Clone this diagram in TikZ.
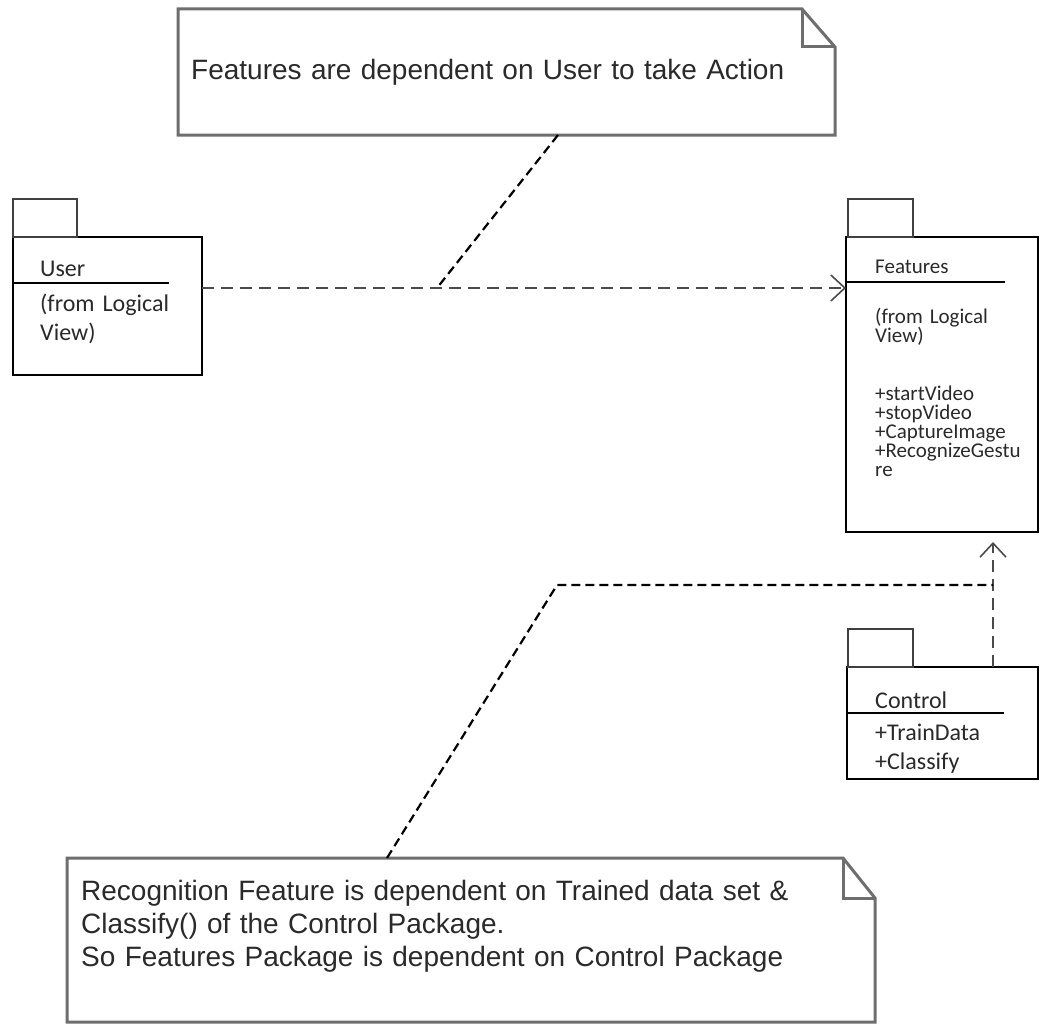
\documentclass[tikz,border=0pt]{standalone}
\usepackage{fontspec}
\setmainfont{Liberation Sans}
\newfontfamily\pkgfont{Carlito}
\usepackage{xcolor}
\usetikzlibrary{arrows.meta,calc}

\definecolor{noteline}{HTML}{6E6E6E}
\definecolor{depline}{HTML}{4A4A4A}
\definecolor{inktext}{HTML}{2A2A2A}

\tikzset{
  pkg/.style={draw=black, line width=2.4pt, fill=white, anchor=north west, inner sep=0pt, outer sep=0pt},
  pkgtab/.style={draw=black!75, line width=1.4pt},
  pkgrule/.style={draw=black, line width=1.5pt},
  pkgtext/.style={anchor=base west, inner sep=0pt, text=inktext, font=\pkgfont\fontsize{24}{29}\selectfont, text width=170pt, align=left},
  opstext/.style={pkgtext, font=\pkgfont\fontsize{21}{19}\selectfont, text width=160pt},
  note/.style={anchor=north west, inner sep=0pt, outer sep=0pt},
  noteframe/.style={draw=noteline, line width=3pt, line join=miter},
  notetext/.style={anchor=base west, inner sep=0pt, text=inktext, font=\fontsize{28}{33}\selectfont, text width=780pt, align=left},
  dep/.style={draw=depline, line width=2pt, dash pattern=on 12pt off 7pt, -{Straight Barb[length=14pt, width=26pt, line width=1.6pt]}},
  notelink/.style={draw=black, line width=2.2pt, dash pattern=on 9pt off 5pt}
}

\begin{document}
\begin{tikzpicture}[x=1pt, y=-1pt]
\useasboundingbox[fill=white] (0,0) rectangle (1049,1025);

% notes
\node[note, minimum width=657pt, minimum height=126pt] (topnote) at (178,9) {};
\draw[noteframe] (topnote.north west) -- ([xshift=-33pt]topnote.north east) -- ([yshift=-38pt]topnote.north east)
  -- (topnote.south east) -- (topnote.south west) -- cycle;
\draw[noteframe] ([xshift=-33pt]topnote.north east) |- ([yshift=-38pt]topnote.north east);
\node[notetext] (toptext) at (191,80) {Features are dependent on User to take Action};

\node[note, minimum width=808pt, minimum height=164pt] (botnote) at (67,858) {};
\draw[noteframe] (botnote.north west) -- ([xshift=-32pt]botnote.north east) -- ([yshift=-40pt]botnote.north east)
  -- (botnote.south east) -- (botnote.south west) -- cycle;
\draw[noteframe] ([xshift=-32pt]botnote.north east) |- ([yshift=-40pt]botnote.north east);
\node[notetext] (bottext) at (81,900) {Recognition Feature is dependent on Trained data set \&\\
  Classify() of the Control Package.\\
  So Features Package is dependent on Control Package};

% packages
\node[pkg, minimum width=189pt, minimum height=138pt] (user) at (13,237) {};
\draw[pkgtab] (user.north west) rectangle ++(64,-38);
\node[pkgtext] (username) at (40,276) {User};
\draw[pkgrule] (user.north west |- 0,283) -- (169,283);
\node[pkgtext] (userfrom) at (40,311) {(from Logical\\View)};

\node[pkg, minimum width=192pt, minimum height=295pt] (features) at (846,237) {};
\draw[pkgtab] ([xshift=2pt]features.north west) rectangle ++(65,-38);
\node[pkgtext, font=\pkgfont\fontsize{21}{19}\selectfont] (featname) at (875,273) {Features};
\draw[pkgrule] (features.north west |- 0,282) -- (1005,282);
\node[opstext] (featfrom) at (875,323) {(from Logical\\View)};
\node[opstext] (featops) at (875,400) {+startVideo\\+stopVideo\\+CaptureImage\\+RecognizeGestu\\re};

\node[pkg, minimum width=191pt, minimum height=112pt] (control) at (847,667) {};
\draw[pkgtab] ([xshift=1pt]control.north west) rectangle ++(65,-38);
\node[pkgtext] (ctrlname) at (875,708) {Control};
\draw[pkgrule] (control.north west |- 0,713) -- (1004,713);
\node[pkgtext] (ctrlops) at (875,740) {+TrainData\\+Classify};

% dependencies
\coordinate (depmid) at (437,288);
\coordinate (vjoin) at (993,585);
\coordinate (bend) at (557,585);
\draw[dep] (user.east |- depmid) -- (features.west |- depmid);
\draw[dep] (control.north -| vjoin) -- ($(features.south -| vjoin)+(0,10)$);

% note links
\draw[notelink] ([xshift=380pt]topnote.south west) -- (depmid);
\draw[notelink] ([xshift=320pt]botnote.north west) -- (bend) -- (vjoin);
\end{tikzpicture}
\end{document}
